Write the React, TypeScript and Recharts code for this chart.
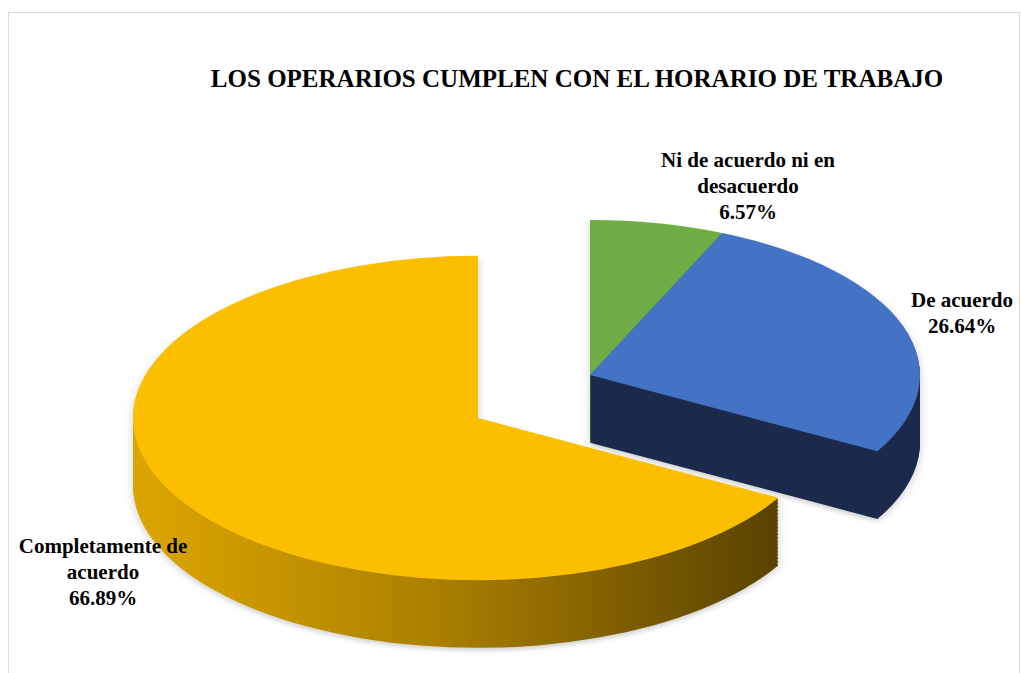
import { Cell, Pie, PieChart } from "recharts";

const categories = ["Ni de acuerdo ni en desacuerdo", "De acuerdo", "Completamente de acuerdo"];
const percents = [6.57, 26.64, 66.89];
const labelLines = [["Ni de acuerdo ni en", "desacuerdo"], ["De acuerdo"], ["Completamente de", "acuerdo"]];
const topColors = ["#70ad47", "#4472c4", "#fbbf00"];
const sideColors = ["#4b7a2f", "#1c2b4c", "url(#yellowSide)"];
// which exploded piece every slice belongs to
const sliceGroup = [0, 0, 1];

const pieData = categories.map((name, i) => ({ name, value: percents[i] }));

const W = 1021;
const H = 673;
const S = 0.47; // vertical squash for the tilted look
const DEPTH = 144; // thickness, unsquashed px
const STEP = 3;
const LAYERS = Math.round(DEPTH / STEP);

// centre (screen px) and radius of each exploded piece
const groups = [
  { cx: 590, cy: 375, r: 330 },
  { cx: 478, cy: 418, r: 345 },
];

const labelPos = [
  { x: 748, y: 167 },
  { x: 962, y: 307 },
  { x: 103, y: 553 },
];

const renderGroup = (g: number) => {
  const { cx, cy, r } = groups[g];
  const out = [];
  for (let k = LAYERS; k >= 0; k--) {
    const top = k === 0;
    out.push(
      <Pie
        key={`g${g}-${k}`}
        data={pieData}
        dataKey="value"
        cx={cx}
        cy={cy / S + k * STEP}
        innerRadius={0}
        outerRadius={r}
        startAngle={90}
        endAngle={-270}
        stroke="none"
        isAnimationActive={false}
      >
        {pieData.map((d, i) => (
          <Cell
            key={d.name}
            fill={sliceGroup[i] === g ? (top ? topColors[i] : sideColors[i]) : "transparent"}
          />
        ))}
      </Pie>
    );
  }
  return out;
};

export default function App() {
  return (
    <div style={{ position: "absolute", left: 0, top: 0, width: W, height: H, background: "#fff", overflow: "hidden" }}>
      <svg width={0} height={0} style={{ position: "absolute" }}>
        <defs>
          <linearGradient id="yellowSide" x1="0" y1="0" x2="1" y2="0">
            <stop offset="0%" stopColor="#dca600" />
            <stop offset="45%" stopColor="#ae8200" />
            <stop offset="100%" stopColor="#584200" />
          </linearGradient>
        </defs>
      </svg>
      <div
        style={{
          position: "absolute",
          left: 8,
          top: 12,
          width: W - 9,
          height: H,
          border: "1px solid #d9d9d9",
          boxSizing: "border-box",
        }}
      />
      <div
        style={{
          position: "absolute",
          left: 0,
          top: 0,
          transform: `scaleY(${S})`,
          transformOrigin: "top left",
          filter: "drop-shadow(0px 6px 5px rgba(0,0,0,0.18))",
        }}
      >
        <PieChart width={W} height={Math.ceil(H / S)} margin={{ top: 0, right: 0, bottom: 0, left: 0 }}>
          {renderGroup(0)}
          {renderGroup(1)}
        </PieChart>
      </div>
      <svg width={W} height={H} style={{ position: "absolute", left: 0, top: 0, pointerEvents: "none" }}>
        <text x={577} y={87} textAnchor="middle" fontFamily="Liberation Serif" fontWeight="bold" fontSize={25} fill="#000">
          LOS OPERARIOS CUMPLEN CON EL HORARIO DE TRABAJO
        </text>
        {pieData.map((d, i) => (
          <text
            key={d.name}
            x={labelPos[i].x}
            y={labelPos[i].y}
            textAnchor="middle"
            fontFamily="Liberation Serif"
            fontWeight="bold"
            fontSize={21}
            fill="#000"
          >
            {[...labelLines[i], `${d.value.toFixed(2)}%`].map((line, j) => (
              <tspan key={j} x={labelPos[i].x} dy={j === 0 ? 0 : 26}>
                {line}
              </tspan>
            ))}
          </text>
        ))}
      </svg>
    </div>
  );
}
